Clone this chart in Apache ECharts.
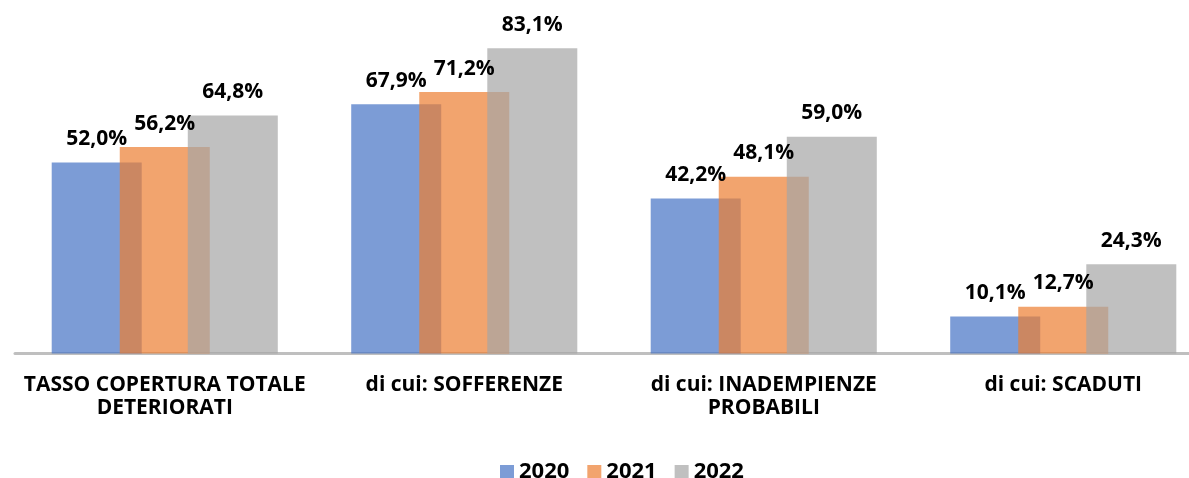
<!DOCTYPE html>
<html>
<head>
<meta charset="utf-8">
<script src="https://cdn.jsdelivr.net/npm/echarts@6/dist/echarts.min.js"></script>
<style>
  html, body { margin: 0; padding: 0; background: #fff; }
  #chart { width: 1189px; height: 478px; }
</style>
</head>
<body>
<div id="chart"></div>
<script>
var categories = [
    'TASSO COPERTURA TOTALE\nDETERIORATI',
    'di cui: SOFFERENZE',
    'di cui: INADEMPIENZE\nPROBABILI',
    'di cui: SCADUTI'
];
var years = ['2020', '2021', '2022'];
var values2020 = [52.0, 67.9, 42.2, 10.1];
var values2021 = [56.2, 71.2, 48.1, 12.7];
var values2022 = [64.8, 83.1, 59.0, 24.3];
var colors = ['rgba(68,114,196,0.7)', 'rgba(237,125,49,0.7)', 'rgba(165,165,165,0.7)'];

var FONT = '"Open Sans", "Liberation Sans", sans-serif';

function makeSeries(name, data, color) {
    return {
        name: name,
        type: 'bar',
        data: data,
        barWidth: 90,
        barGap: '-24.4%',
        itemStyle: { color: color },
        label: {
            show: true,
            position: 'top',
            distance: 13,
            color: '#000',
            fontFamily: FONT,
            fontWeight: 'bold',
            fontSize: 21,
            formatter: function (p) {
                return p.value.toFixed(1).replace('.', ',') + '%';
            }
        }
    };
}

var myChart = echarts.init(document.getElementById('chart'));
var option = {
    animation: false,
    grid: { left: 15, right: -24, top: 23, bottom: 124.5, containLabel: false, outerBoundsMode: 'none' },
    legend: {
        top: 456,
        left: 495,
        itemWidth: 14,
        itemHeight: 14,
        itemGap: 18,
        icon: 'rect',
        textStyle: { fontFamily: FONT, fontWeight: 'bold', fontSize: 22, color: '#000' },
        data: years
    },
    xAxis: {
        type: 'category',
        data: categories,
        axisLine: { lineStyle: { color: '#bfbfbf', width: 3 } },
        axisTick: { show: false },
        axisLabel: {
            interval: 0,
            margin: 20,
            color: '#000',
            fontFamily: FONT,
            fontWeight: 'bold',
            fontSize: 21,
            lineHeight: 23
        }
    },
    yAxis: {
        type: 'value',
        min: 0,
        max: 90,
        show: false,
        splitLine: { show: false }
    },
    series: [
        makeSeries(years[0], values2020, colors[0]),
        makeSeries(years[1], values2021, colors[1]),
        makeSeries(years[2], values2022, colors[2])
    ]
};
myChart.setOption(option);
</script>
</body>
</html>
